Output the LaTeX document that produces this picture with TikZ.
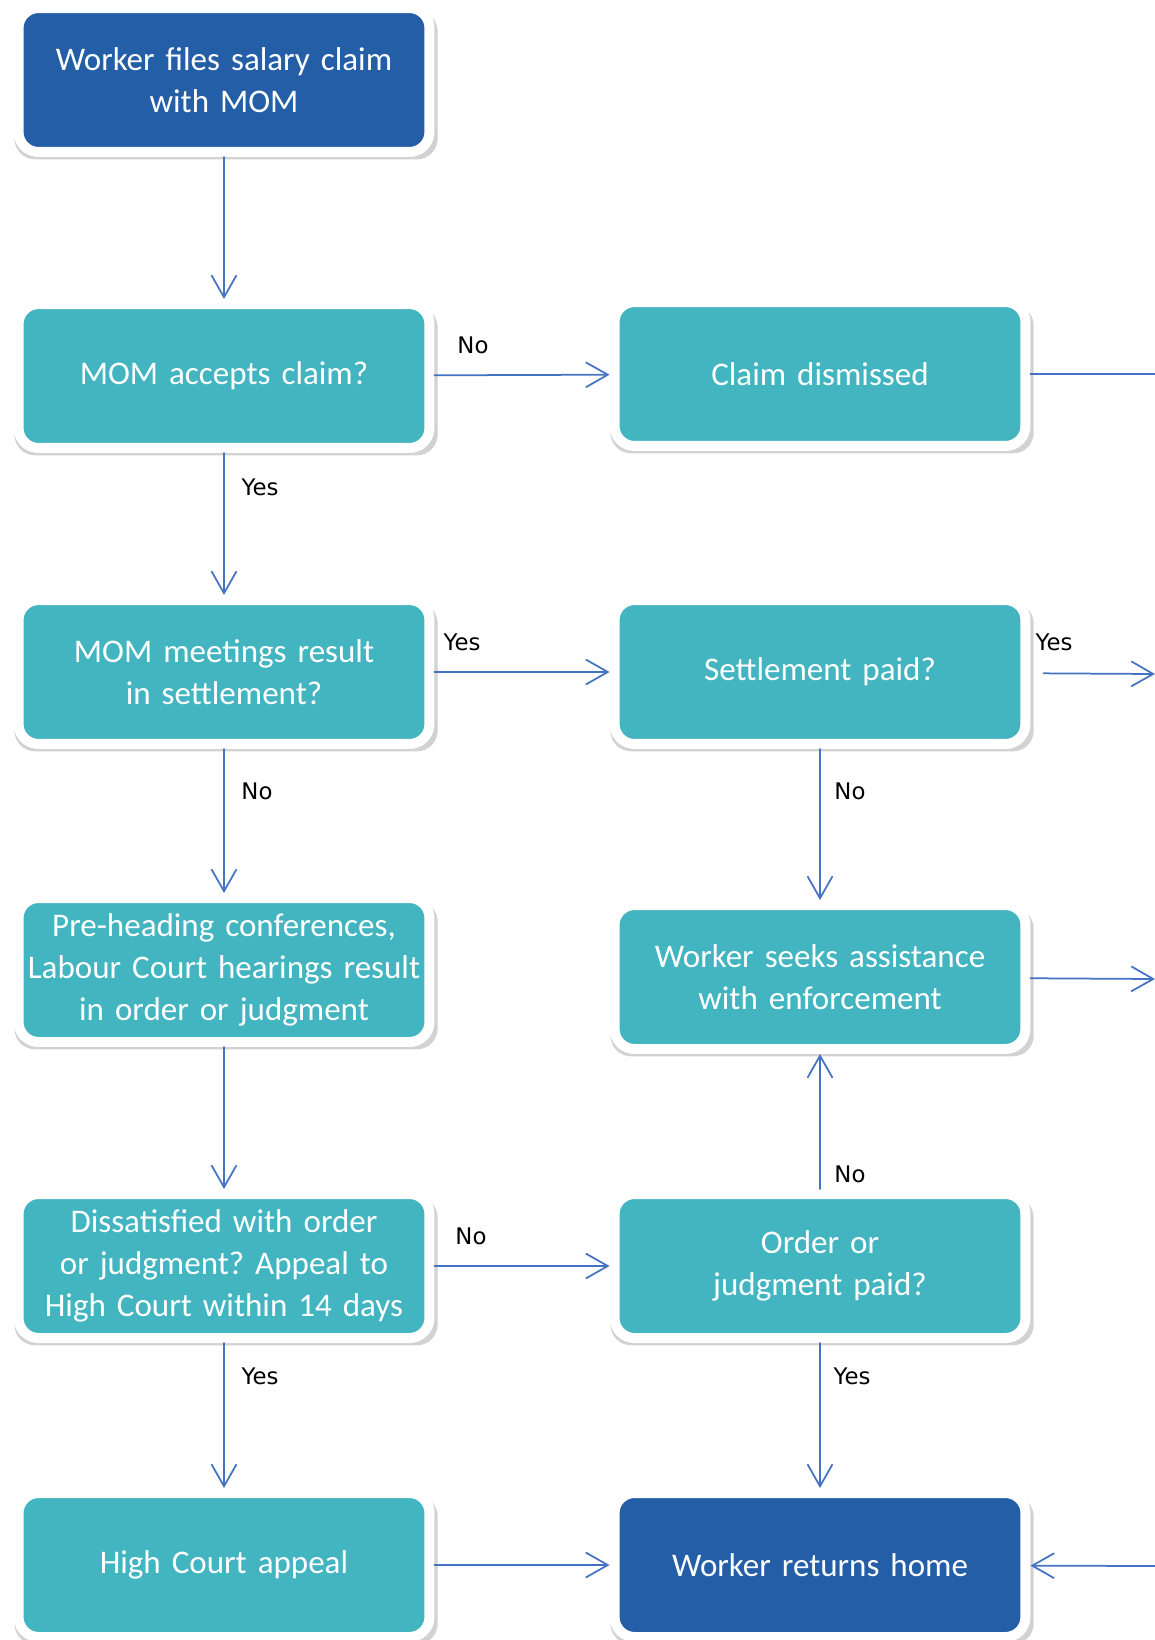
\documentclass[tikz,border=0pt]{standalone}
\usepackage{fontspec}
\setmainfont{Carlito}[WordSpace=0.8]
\newfontfamily\lblfont{DejaVu Sans}
\usetikzlibrary{arrows.meta,shadows}
\definecolor{darkbox}{RGB}{35,94,167}
\definecolor{tealbox}{RGB}{66,181,193}
\definecolor{arrowblue}{RGB}{68,114,196}
\frenchspacing
\tikzset{
  box/.style={draw=white,line width=0.2cm,rounded corners=0.4cm,
    minimum width=8.22cm,minimum height=2.88cm,text width=8cm,align=center,
    inner xsep=0.11cm,inner ysep=0pt,text=white,font=\fontsize{18.8}{24}\selectfont,
    drop shadow={shadow xshift=0.04cm,shadow yshift=-0.1cm,shadow scale=1.03,opacity=0.25,fill=black!70}},
  dbox/.style={box,fill=darkbox},
  tbox/.style={box,fill=tealbox},
  conn/.style={->,draw=arrowblue,line width=0.035cm},
  lbl/.style={font=\lblfont\fontsize{13}{14}\selectfont,inner sep=0pt}
}
\begin{document}
\begin{tikzpicture}[x=0.02cm,y=-0.02cm,>={Straight Barb[length=0.44cm,width=0.5cm]},line join=round,line cap=round]
	\useasboundingbox (0,0) rectangle (1155,1640);
	\node[dbox] (start) at (224,80) {Worker files salary claim\\with MOM};
	\node[tbox] (acc) at (224,376) {MOM accepts claim?};
	\node[tbox] (dism) at (820,374) {Claim dismissed};
	\node[tbox] (meet) at (224,672) {MOM meetings result\\in settlement?};
	\node[tbox] (settle) at (820,672) {Settlement paid?};
	\node[tbox] (pre) at (224,970) {Pre-heading conferences,\\Labour Court hearings result\\in order or judgment};
	\node[tbox] (seek) at (820,977) {Worker seeks assistance\\with enforcement};
	\node[tbox] (dissat) at (224,1266) {Dissatisfied with order\\or judgment? Appeal to\\High Court within 14 days};
	\node[tbox] (order) at (820,1266) {Order or\\judgment paid?};
	\node[tbox] (appeal) at (224,1565) {High Court appeal};
	\node[dbox] (home) at (820,1565) {Worker returns home};
	\path
	(1155,374) coordinate (r1)
	(1155,674) coordinate (r2)
	(1155,979) coordinate (r3)
	(1155,1566) coordinate (r4);
	\foreach \a/\b in {start/acc, acc/dism, acc/meet, meet/settle, meet/pre, settle/seek, pre/dissat,
		dissat/order, order/seek, dissat/appeal, order/home, appeal/home, seek/r3, r4/home}
	\draw[conn] (\a) -- (\b);
	\draw[conn,shorten <=0.26cm] (settle) -- (r2);
	\draw[draw=arrowblue,line width=0.035cm] (dism) -- (r1);
	\foreach \n/\t/\x/\y in {la/No/473/345, lb/Yes/260/487, lc/Yes/462/642, ld/Yes/1054/642, le/No/257/791,
		lf/No/850/791, lg/No/471/1236, lh/No/850/1174, li/Yes/260/1376, lj/Yes/852/1376}
	\node[lbl] (\n) at (\x,\y) {\t};
\end{tikzpicture}
\end{document}
